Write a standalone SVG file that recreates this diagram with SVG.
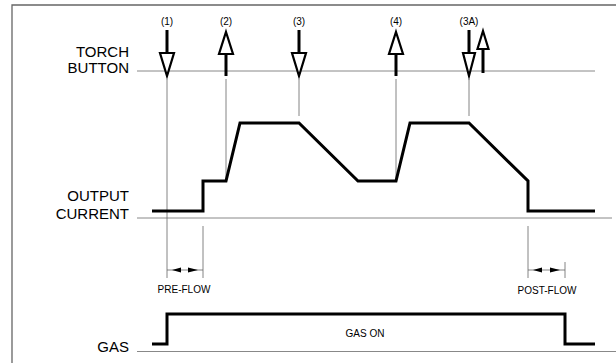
<svg xmlns="http://www.w3.org/2000/svg" width="616" height="363" viewBox="0 0 616 363">
<style>
.frame{stroke:#666;stroke-width:1.3;fill:none}
.base{stroke:#888;stroke-width:1;fill:none}
.thin{stroke:#666;stroke-width:0.8;fill:none}
.thick{stroke:#000;stroke-width:3;fill:none;stroke-linejoin:miter}
.shaft{stroke:#000;stroke-width:3;fill:none}
.head{stroke:#000;stroke-width:2.2;fill:#fff;stroke-linejoin:miter}
.lbl{font-family:"Liberation Sans",Arial,sans-serif;font-size:15px;fill:#000;text-anchor:end}
.sm{font-family:"Liberation Sans",Arial,sans-serif;font-size:10px;fill:#000;text-anchor:middle}
.dim{fill:#000;stroke:none}
</style>
<rect width="616" height="363" fill="#fff"/>
<path class="frame" d="M12,363 V5 H616"/>
<g id="labels">
<text class="lbl" x="129" y="57">TORCH</text>
<text class="lbl" x="129" y="73">BUTTON</text>
<text class="lbl" x="129" y="201">OUTPUT</text>
<text class="lbl" x="129" y="219">CURRENT</text>
<text class="lbl" x="129" y="352">GAS</text>
</g>
<g id="baselines">
<line class="base" x1="137" y1="71" x2="595" y2="71"/>
<line class="base" x1="137" y1="218" x2="612" y2="218"/>
<line class="base" x1="137" y1="351.5" x2="616" y2="351.5"/>
</g>
<g id="guides">
<line class="thin" x1="167" y1="79" x2="167" y2="278"/>
<line class="thin" x1="226" y1="79" x2="226" y2="180"/>
<line class="thin" x1="299" y1="79" x2="299" y2="116"/>
<line class="thin" x1="396" y1="79" x2="396" y2="178"/>
<line class="thin" x1="469" y1="79" x2="469" y2="116"/>
<line class="thin" x1="203" y1="226" x2="203" y2="278"/>
<line class="thin" x1="528" y1="226" x2="528" y2="278"/>
<line class="thin" x1="565" y1="262" x2="565" y2="278"/>
</g>
<g id="event-1">
<text class="sm" x="167" y="25">(1)</text>
<line class="shaft" x1="167" y1="30" x2="167" y2="53"/>
<path class="head" d="M160,53 H174 L167,76 Z"/>
</g>
<g id="event-2">
<text class="sm" x="226" y="25">(2)</text>
<line class="shaft" x1="226" y1="53" x2="226" y2="76"/>
<path class="head" d="M226,32 L233,54 H219 Z"/>
</g>
<g id="event-3">
<text class="sm" x="299" y="25">(3)</text>
<line class="shaft" x1="299" y1="30" x2="299" y2="53"/>
<path class="head" d="M292,53 H306 L299,76 Z"/>
</g>
<g id="event-4">
<text class="sm" x="396" y="25">(4)</text>
<line class="shaft" x1="396" y1="53" x2="396" y2="76"/>
<path class="head" d="M396,32 L403,54 H389 Z"/>
</g>
<g id="event-3A">
<text class="sm" x="469" y="25">(3A)</text>
<line class="shaft" x1="469" y1="30" x2="469" y2="53"/>
<path class="head" d="M463,53 H475 L469,76 Z"/>
<line class="shaft" x1="483" y1="48" x2="483" y2="73"/>
<path class="head" d="M483,31 L488.5,49 H477.5 Z"/>
</g>
<g id="current-waveform">
<polyline class="thick" points="152,211 203,211 203,181 226,181 240,123 299,123 358,181 396,181 410,123 469,123 528,181 528,211 595,211"/>
</g>
<g id="gas-waveform">
<polyline class="thick" points="152,344 167,344 167,314 565,314 565,344 595,344"/>
<text class="sm" x="365" y="337">GAS ON</text>
</g>
<g id="pre-flow">
<line class="thin" x1="167" y1="270" x2="203" y2="270"/>
<path class="dim" d="M172,270 L181,267.5 V272.5 Z"/>
<path class="dim" d="M198,270 L188,267.5 V272.5 Z"/>
<text class="sm" x="184" y="293">PRE-FLOW</text>
</g>
<g id="post-flow">
<line class="thin" x1="528" y1="270" x2="565" y2="270"/>
<path class="dim" d="M533,270 L542,267.5 V272.5 Z"/>
<path class="dim" d="M560,270 L550,267.5 V272.5 Z"/>
<text class="sm" x="547" y="294">POST-FLOW</text>
</g>
</svg>
